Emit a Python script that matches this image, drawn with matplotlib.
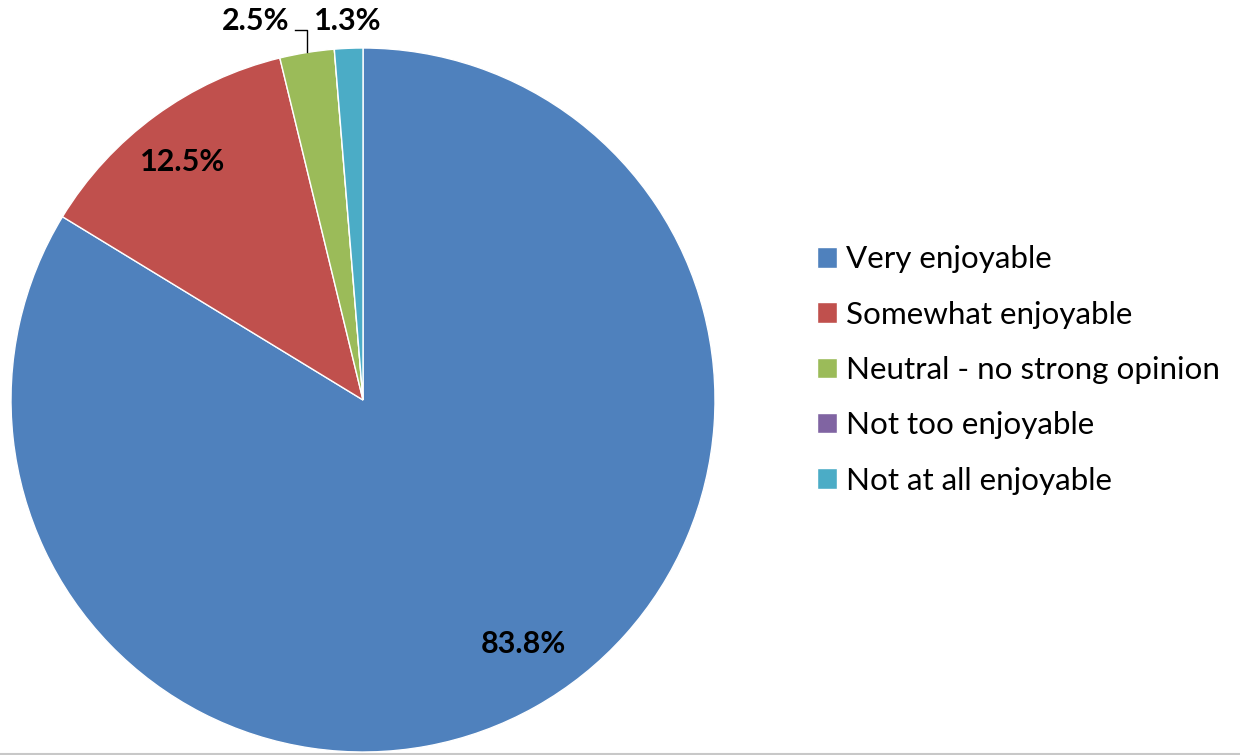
import numpy as np
import matplotlib
matplotlib.use("Agg")
import matplotlib.pyplot as plt
from matplotlib.lines import Line2D

categories = ["Very enjoyable", "Somewhat enjoyable", "Neutral - no strong opinion",
              "Not too enjoyable", "Not at all enjoyable"]
values = [83.8, 12.5, 2.5, 0.0, 1.3]
labels = ["83.8%", "12.5%", "2.5%", "", "1.3%"]
colors = ["#4F81BD", "#C0504D", "#9BBB59", "#8064A2", "#4BACC6"]

plt.rcParams['font.family'] = ['Lato', 'DejaVu Sans']

W, H = 1240, 755
fig = plt.figure(figsize=(W / 100, H / 100), dpi=100)
cx, cy, R = 363, 400, 352
ax = fig.add_axes([(cx - R) / W, (H - cy - R) / H, 2 * R / W, 2 * R / H])

wedges, _ = ax.pie(values, colors=colors, startangle=90, counterclock=False,
                   radius=1.0, wedgeprops=dict(edgecolor='white', linewidth=1.0))
ax.set_xlim(-1, 1)
ax.set_ylim(-1, 1)
ax.set_aspect('equal')
ax.axis('off')

def mid(w):
    return np.deg2rad((w.theta1 + w.theta2) / 2)

fs = 22
# inside labels
for i, d in [(0, 0.83), (1, 0.85)]:
    a = mid(wedges[i])
    ax.text(d * np.cos(a) + (0.05 if i == 0 else -0.01), d * np.sin(a) + (0.03 if i == 0 else -0.01),
            labels[i], ha='center', va='center',
            fontsize=fs, fontweight='bold', color='black')

# 2.5% with leader
a = mid(wedges[2])
ex, ey = np.cos(a), np.sin(a)
ly = 1.052
lx_end = ex - 0.035
ax.add_line(Line2D([ex, ex, lx_end], [ey, ly, ly], color='black', lw=1.0, clip_on=False))
ax.text(lx_end - 0.015, 1.078, labels[2], ha='right', va='center',
        fontsize=fs, fontweight='bold', color='black', clip_on=False)

# 1.3%
a = mid(wedges[4])
ax.text(1.08 * np.cos(a), 1.078, labels[4], ha='center', va='center',
        fontsize=fs, fontweight='bold', color='black', clip_on=False)

leg = fig.legend(wedges, categories, loc='center left',
                 bbox_to_anchor=(789 / W, 1 - 370 / H), frameon=False,
                 fontsize=22.6, handlelength=0.62, handleheight=0.62,
                 handletextpad=0.3, labelspacing=0.87)

fig.add_artist(Line2D([0, 1], [1.5 / H, 1.5 / H], transform=fig.transFigure,
                      color='#C8C8C8', lw=1.5))

fig.savefig("out.png", dpi=100)
